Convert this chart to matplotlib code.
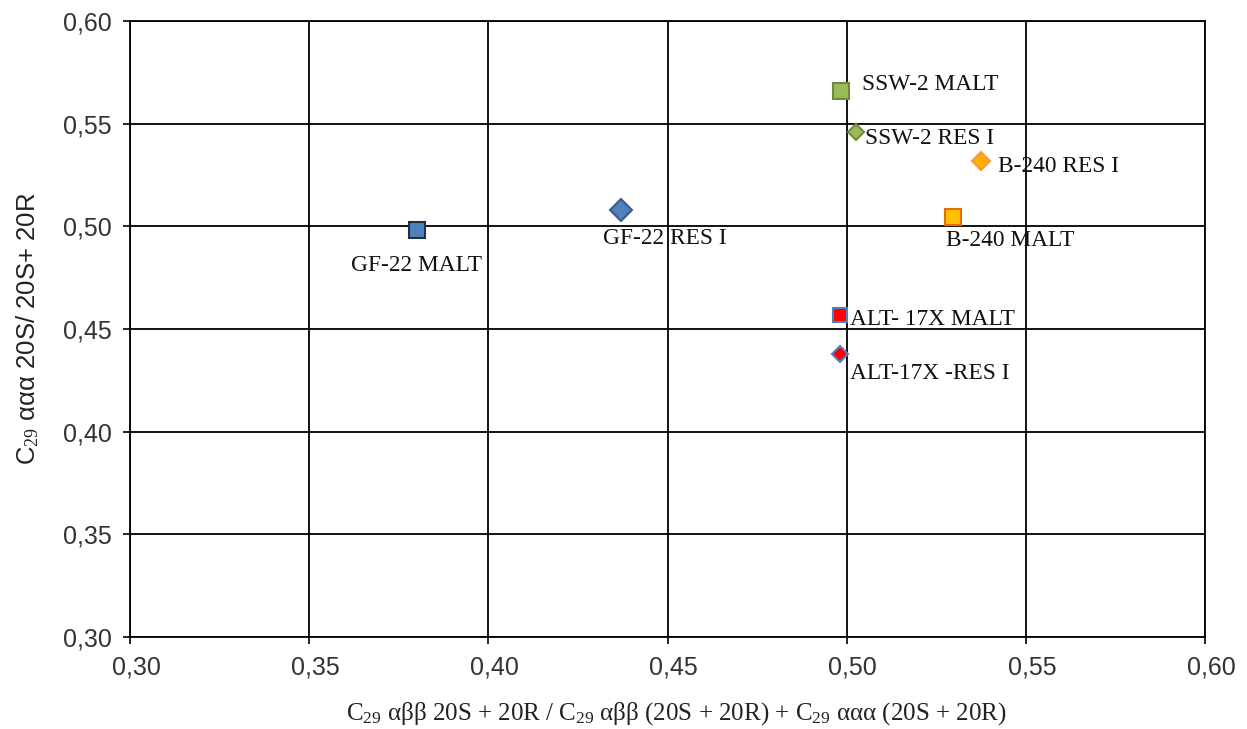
import matplotlib.pyplot as plt
import matplotlib.transforms as mtransforms
from matplotlib.ticker import FuncFormatter, MultipleLocator

# sample values
names = ["GF-22 MALT", "GF-22 RES I", "SSW-2 MALT", "SSW-2 RES I",
         "B-240 RES I", "B-240 MALT", "ALT- 17X MALT", "ALT-17X -RES I"]
x_vals = [0.380, 0.437, 0.4985, 0.5025, 0.5375, 0.5297, 0.498, 0.498]
y_vals = [0.498, 0.508, 0.566, 0.546, 0.532, 0.5045, 0.457, 0.4378]
markers = ["s", "D", "s", "D", "D", "s", "s", "D"]
faces = ["#4F81BD", "#4F81BD", "#9BBB59", "#9BBB59",
         "#FFB000", "#FFC000", "#FF0000", "#FF0000"]
edges = ["#1F2F44", "#385D8A", "#71893F", "#71893F",
         "#F79646", "#E46C0A", "#4F81BD", "#4F81BD"]
sizes = [11.5, 10.8, 11, 8.5, 9.4, 11, 10, 8.5]
# label offsets in pixels from the marker
offsets = [(-66, -35), (-18, -29), (21, 6), (9, -7),
           (17, -6), (-7, -23), (10, -5), (10, -19)]

plt.rcParams["mathtext.fontset"] = "custom"
plt.rcParams["mathtext.rm"] = "Liberation Serif"
plt.rcParams["mathtext.it"] = "Liberation Serif:italic"

fig = plt.figure(figsize=(12.47, 7.29), dpi=100)
ax = fig.add_axes([0.1043, 0.1262, 0.862, 0.845])

for x, y, m, fc, ec, s in zip(x_vals, y_vals, markers, faces, edges, sizes):
    ax.plot(x, y, marker=m, markersize=s, markerfacecolor=fc,
            markeredgecolor=ec, markeredgewidth=1.5, linestyle="none", zorder=3)

for name, x, y, (dx, dy) in zip(names, x_vals, y_vals, offsets):
    ax.annotate(name, (x, y), xytext=(dx, dy), textcoords="offset pixels",
                ha="left", va="center", fontsize=16.8,
                family="Liberation Serif", color="#111111", zorder=4)

ax.set_xlim(0.30, 0.60)
ax.set_ylim(0.30, 0.60)
ax.xaxis.set_major_locator(MultipleLocator(0.05))
ax.yaxis.set_major_locator(MultipleLocator(0.05))
comma = FuncFormatter(lambda v, _: f"{v:.2f}".replace(".", ","))
ax.xaxis.set_major_formatter(comma)
ax.yaxis.set_major_formatter(comma)
ax.grid(True, color="black", linewidth=1.3)
ax.set_axisbelow(True)
for sp in ax.spines.values():
    sp.set_color("black")
    sp.set_linewidth(1.3)
ax.tick_params(direction="out", length=5, width=1.2, labelsize=18, labelcolor="#333333")
ax.tick_params(axis="x", pad=8)
ax.tick_params(axis="y", pad=8)
shift = mtransforms.ScaledTranslation(6 / 100, 0, fig.dpi_scale_trans)
for lab in ax.get_xticklabels():
    lab.set_family("Liberation Sans")
    lab.set_transform(lab.get_transform() + shift)
for lab in ax.get_yticklabels():
    lab.set_family("Liberation Sans")

ax.set_xlabel(r"C$_{29}$ αββ 20S + 20R / C$_{29}$ αββ (20S + 20R) + C$_{29}$ ααα (20S + 20R)",
              family="Liberation Serif", fontsize=18, color="#222222")
ax.xaxis.set_label_coords(0.508, -0.102)
ax.set_ylabel(r"C$_{29}$ ααα 20S/ 20S+ 20R", family="Liberation Sans",
              fontsize=18.5, labelpad=16, color="#222222")

fig.savefig("out.png", dpi=100)
